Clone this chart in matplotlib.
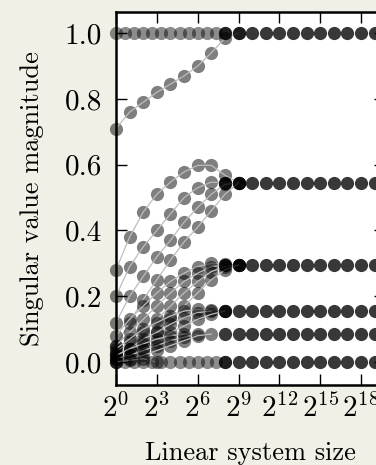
import numpy as np
import matplotlib
matplotlib.use("Agg")
import matplotlib.pyplot as plt
from matplotlib.ticker import FixedLocator, LogFormatterSciNotation, NullLocator

plt.rcParams['font.family'] = 'serif'
plt.rcParams['font.serif'] = ['cmr10', 'DejaVu Serif']
plt.rcParams['mathtext.fontset'] = 'cm'
plt.rcParams['axes.unicode_minus'] = False
plt.rcParams['axes.formatter.use_mathtext'] = True

# ---- data (log2 of linear system size -> singular value) ----
# transient curves, sampled at exponents 0,1,2,... until they reach their plateau
curve_top = [0.71, 0.76, 0.79, 0.82, 0.845, 0.87, 0.90, 0.94, 0.985, 1.0]
curve_c1 = [0.28, 0.38, 0.456, 0.51, 0.547, 0.578, 0.598, 0.598, 0.568, 0.545]
curve_c2 = [0.20, 0.29, 0.35, 0.40, 0.45, 0.50, 0.53, 0.547, 0.545]
curve_c3 = [0.12, 0.20, 0.26, 0.32, 0.37, 0.425, 0.47, 0.51, 0.54, 0.545]
curve_c4 = [0.05, 0.12, 0.19, 0.25, 0.31, 0.365, 0.41, 0.46, 0.51, 0.545]
curve_d1 = [0.08, 0.13, 0.17, 0.21, 0.245, 0.27, 0.29, 0.30, 0.298, 0.295]
curve_d2 = [0.05, 0.09, 0.13, 0.17, 0.21, 0.245, 0.27, 0.29, 0.295]
curve_d3 = [0.03, 0.06, 0.09, 0.13, 0.17, 0.21, 0.245, 0.275, 0.29, 0.295]
curve_d4 = [0.02, 0.04, 0.06, 0.09, 0.13, 0.17, 0.21, 0.25, 0.28, 0.295]
curve_e1 = [0.04, 0.07, 0.10, 0.12, 0.14, 0.155, 0.16, 0.158, 0.155]
curve_e2 = [0.02, 0.04, 0.07, 0.09, 0.115, 0.135, 0.15, 0.155]
curve_e3 = [0.01, 0.02, 0.04, 0.06, 0.09, 0.11, 0.13, 0.145, 0.155]
curve_f1 = [0.02, 0.04, 0.055, 0.07, 0.08, 0.085]
curve_f2 = [0.01, 0.02, 0.035, 0.05, 0.065, 0.075, 0.085]
curve_f3 = [0.0, 0.01, 0.02, 0.035, 0.05, 0.065, 0.08, 0.085]
curve_g1 = [0.0, 0.005, 0.01, 0.0]
curves = [curve_top, curve_c1, curve_c2, curve_c3, curve_c4,
          curve_d1, curve_d2, curve_d3, curve_d4,
          curve_e1, curve_e2, curve_e3,
          curve_f1, curve_f2, curve_f3, curve_g1]

# densely sampled small-size rows
dense_top_exp = [0, 0.67, 1.33, 2.0, 2.67, 3.33, 4.0, 4.67, 5.33, 6.0, 6.67, 7.33, 8.0]
dense_top_val = [1.0, 1.0, 1.0, 1.0, 1.0, 1.0, 1.0, 1.0, 1.0, 1.0, 1.0, 1.0, 1.0]
dense_zero_exp = [0, 0.67, 1.33, 2.0, 2.67, 3.33, 4.0, 4.67, 5.33, 6.0, 6.67, 7.33, 8.0]
dense_zero_val = [0.0, 0.0, 0.0, 0.0, 0.0, 0.0, 0.0, 0.0, 0.0, 0.0, 0.0, 0.0, 0.0]

# converged plateaus for large systems
plateau_levels = [1.0, 0.545, 0.295, 0.155, 0.085, 0.0]
plateau_exp = [8, 9, 10, 11, 12, 13, 14, 15, 16, 17, 18, 19, 20]

yticks = [0.0, 0.2, 0.4, 0.6, 0.8, 1.0]
xtick_exp = [0, 3, 6, 9, 12, 15, 18]

# ---- figure ----
fig = plt.figure(figsize=(3.76, 4.65), dpi=100, facecolor='#f0f0e6')
ax = fig.add_axes([0.3085, 0.172, 0.715, 0.802])
ax.set_facecolor('white')

ms = 9.5
for i, vals in enumerate(curves):
    sizes = [2.0 ** k for k in range(len(vals))]
    ax.plot(sizes, vals, 'o', color='black', alpha=0.5, ms=ms, mec='none',
            clip_on=False, zorder=3 + 2 * i)
    ax.plot(sizes, vals, '-', color='0.74', lw=0.9, zorder=4 + 2 * i)

for ex, vals in [(dense_top_exp, dense_top_val), (dense_zero_exp, dense_zero_val)]:
    sizes = [2.0 ** k for k in ex]
    ax.plot(sizes, vals, 'o', color='black', alpha=0.45, ms=ms, mec='none',
            clip_on=False, zorder=50)

for lev in plateau_levels:
    sizes = [2.0 ** k for k in plateau_exp]
    ax.plot(sizes, [lev] * len(sizes), 'o', color='black', alpha=0.78, ms=ms,
            mec='none', clip_on=False, zorder=50)

ax.set_xscale('log', base=2)
ax.set_xlim(1, 2.0 ** 19.75)
ax.set_ylim(-0.07, 1.064)
ax.xaxis.set_major_locator(FixedLocator([2.0 ** k for k in xtick_exp]))
ax.xaxis.set_minor_locator(NullLocator())
ax.xaxis.set_major_formatter(LogFormatterSciNotation(base=2))
ax.set_yticks(yticks)
ax.set_yticklabels(['%.1f' % v for v in yticks])

ax.tick_params(direction='in', length=8, width=1.0, top=True, right=True,
               labelsize=21, colors='black')
ax.tick_params(axis='y', pad=10)
ax.tick_params(axis='x', pad=6)
for s in ax.spines.values():
    s.set_linewidth(1.8)
    s.set_zorder(60)

ax.set_xlabel('Linear system size', fontsize=19, labelpad=13)
ax.set_ylabel('Singular value magnitude', fontsize=19, labelpad=15)

fig.savefig('out.png', dpi=100, facecolor=fig.get_facecolor())
